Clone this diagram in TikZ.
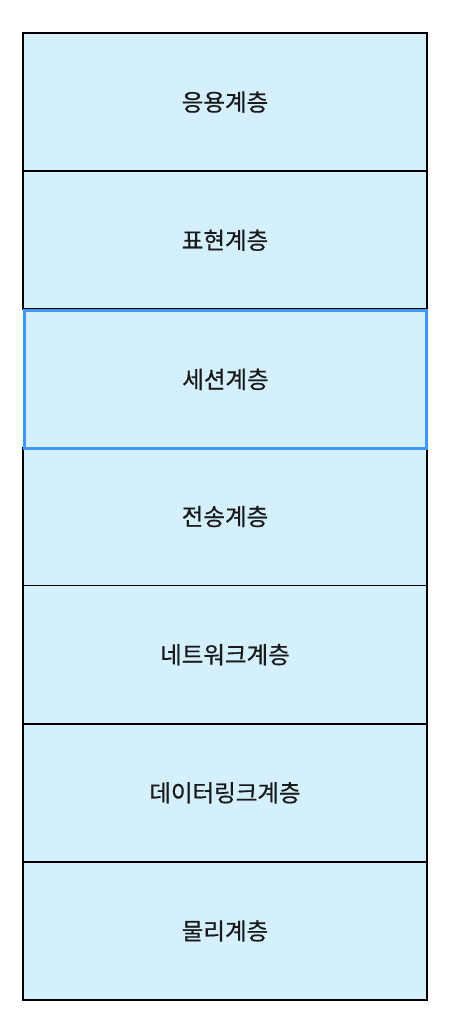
\documentclass[tikz,border=0pt]{standalone}
\usepackage{fontspec}
\newfontfamily\kr[FakeBold=0.6]{Noto Sans CJK KR}
\definecolor{layerfill}{HTML}{D4F0FC}
\definecolor{hiblue}{HTML}{3D99F5}
\definecolor{txt}{HTML}{1A1A1A}
\tikzset{
  layer/.style={draw=black, line width=1.8pt, fill=layerfill, minimum width=404pt, minimum height=138.14pt, inner sep=0pt, outer sep=0pt, anchor=north west, text=txt, font=\kr\fontsize{23.5pt}{28pt}\selectfont},
  hilayer/.style={layer, draw=hiblue, line width=3.5pt, minimum width=402pt, minimum height=138.14pt}
}
\begin{document}
\begin{tikzpicture}[x=1pt,y=-1pt]
\useasboundingbox (0,0) rectangle (452,1036);
\node[layer] (l7) at (23,33) {응용계층};
\node[layer] (l6) at (23,171.14) {표현계층};
\node[layer] (l4) at (23,447.43) {전송계층};
\node[layer] (l3) at (23,585.57) {네트워크계층};
\node[layer] (l2) at (23,723.71) {데이터링크계층};
\node[layer] (l1) at (23,861.86) {물리계층};
\node[hilayer] (l5) at (24.5,310.3) {세션계층};
\end{tikzpicture}
\end{document}
